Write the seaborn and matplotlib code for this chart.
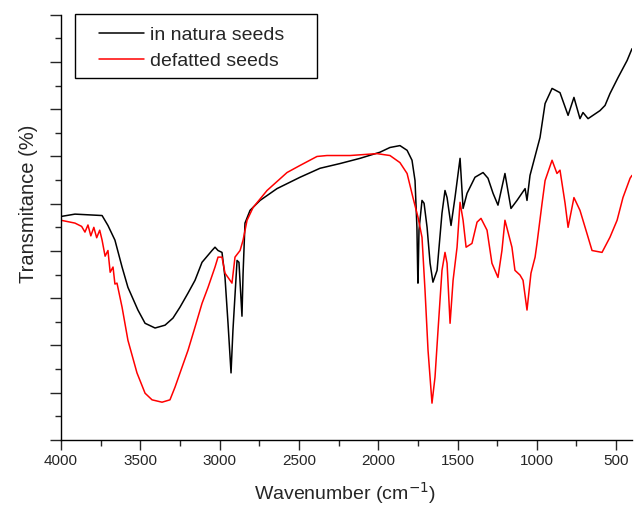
import pandas as pd
import matplotlib
matplotlib.use('Agg')
import matplotlib.pyplot as plt
import seaborn as sns
from matplotlib.ticker import MultipleLocator
from matplotlib.patches import Rectangle

# wavenumber (cm-1) and transmittance
natura_wn = [4000, 3912, 3741, 3704, 3660, 3615, 3578, 3515, 3470, 3407, 3344, 3294,
             3250, 3199, 3155, 3111, 3048, 3029, 3010, 2985, 2966, 2947, 2928, 2916,
             2890, 2878, 2859, 2852, 2840, 2808, 2745, 2638, 2493, 2367, 2241, 2115,
             1989, 1926, 1863, 1818, 1787, 1768, 1756, 1750, 1749, 1743, 1724, 1711,
             1692, 1673, 1655, 1629, 1598, 1579, 1566, 1541, 1516, 1484, 1465, 1440,
             1390, 1339, 1308, 1276, 1245, 1201, 1163, 1125, 1074, 1062, 1043, 980,
             948, 904, 854, 803, 766, 728, 709, 677, 602, 570, 539, 488, 431, 400]
natura_t = [47.3, 47.8, 47.5, 45.4, 42.3, 36.6, 32.3, 27.5, 24.7, 23.7, 24.3, 25.8,
            28.1, 31.1, 33.8, 37.6, 40.1, 40.8, 40.1, 39.7, 34.4, 24.7, 14.2, 23.2,
            38.0, 37.6, 26.2, 35.3, 45.9, 48.6, 50.7, 53.2, 55.6, 57.5, 58.5, 59.6,
            60.9, 61.9, 62.3, 61.3, 59.2, 54.9, 45.0, 33.2, 33.2, 44.4, 50.7, 50.1,
            45.0, 37.4, 33.4, 35.9, 48.0, 52.8, 51.3, 45.4, 51.3, 59.6, 49.0, 52.2,
            55.6, 56.6, 55.4, 52.2, 49.7, 56.4, 49.0, 50.7, 53.2, 50.7, 56.0, 64.0,
            71.2, 74.4, 73.5, 68.7, 72.5, 68.0, 69.3, 68.0, 69.7, 70.8, 73.3, 76.7, 80.3, 82.8]

defatted_wn = [4000, 3912, 3870, 3849, 3830, 3812, 3793, 3775, 3756, 3741, 3722, 3704,
               3690, 3672, 3660, 3647, 3615, 3578, 3521, 3470,
               3426, 3363, 3313, 3281, 3237, 3199, 3155, 3111, 3073, 3029, 3010, 2985,
               2966, 2947, 2922, 2903, 2871, 2852, 2827, 2789, 2701, 2575, 2493, 2386,
               2323, 2178, 2008, 1926, 1863, 1818, 1781, 1749, 1724, 1705, 1686, 1661,
               1642, 1623, 1598, 1579, 1566, 1547, 1528, 1503, 1484, 1465, 1446, 1409,
               1377, 1352, 1314, 1283, 1245, 1220, 1201, 1157, 1138, 1106, 1087, 1062,
               1037, 1011, 999, 967, 948, 904, 873, 854, 822, 803, 766, 728, 684, 652,
               589, 539, 494, 457, 412, 400]
defatted_t = [46.5, 45.9, 45.2, 44.0, 45.5, 43.2, 45.0, 42.8, 44.4, 42.3, 38.9, 40.1,
              35.5, 36.6, 33.0, 33.2, 28.1, 21.1, 14.2, 9.9,
              8.5, 8.0, 8.5, 11.2, 15.4, 19.0, 23.9, 28.9, 32.3, 36.6, 38.7, 38.7,
              35.3, 34.4, 33.2, 38.7, 40.1, 42.3, 46.5, 49.2, 52.8, 56.6, 58.1, 60.0,
              60.2, 60.2, 60.6, 60.2, 58.7, 56.4, 51.3, 47.1, 42.9, 31.7, 19.0, 7.8,
              13.3, 23.2, 35.9, 39.7, 37.4, 24.7, 33.8, 40.8, 50.3, 46.5, 40.8, 41.6,
              46.1, 46.9, 44.4, 37.4, 34.4, 40.1, 46.5, 40.8, 35.9, 34.9, 33.8, 27.5,
              35.3, 38.7, 41.6, 50.1, 54.9, 59.2, 56.4, 57.1, 50.1, 45.0, 51.3, 48.6,
              43.7, 40.1, 39.7, 42.9, 46.5, 51.3, 55.4, 56.0]

series_names = ['in natura seeds', 'defatted seeds']
series_colors = ['black', 'red']

df = pd.concat([
    pd.DataFrame({'wn': natura_wn, 'T': natura_t, 'sample': series_names[0]}),
    pd.DataFrame({'wn': defatted_wn, 'T': defatted_t, 'sample': series_names[1]}),
])

sns.set_style('ticks')
plt.rcParams['font.family'] = ['Liberation Sans', 'DejaVu Sans']

fig = plt.figure(figsize=(6.36, 5.05), dpi=100)
ax = fig.add_axes([61 / 636, 65 / 505, 571 / 636, 425.3 / 505])

sns.lineplot(data=df, x='wn', y='T', hue='sample', palette=series_colors,
             linewidth=1.1, estimator=None, sort=False, ax=ax)

ax.set_xlim(4000, 400)
ax.set_ylim(0, 90)
ax.xaxis.set_major_locator(MultipleLocator(500))
ax.xaxis.set_minor_locator(MultipleLocator(250))
ax.yaxis.set_major_locator(MultipleLocator(10))
ax.yaxis.set_minor_locator(MultipleLocator(5))
ax.set_yticklabels([])
ax.tick_params(axis='x', which='major', length=7, width=1, labelsize=11, pad=3)
ax.tick_params(axis='x', which='minor', length=4, width=1)
ax.tick_params(axis='y', which='major', length=8, width=1)
ax.tick_params(axis='y', which='minor', length=4, width=1)
sns.despine(ax=ax)
for s in ['left', 'bottom']:
    ax.spines[s].set_linewidth(1.0)
    ax.spines[s].set_color('black')

ax.set_xlabel('Wavenumber (cm$^{-1}$)', fontsize=14)
ax.xaxis.set_label_coords(0.497, -0.094)
ax.set_ylabel('Transmitance (%)', fontsize=14.5)
ax.yaxis.set_label_coords(-0.04, 0.555)

# legend box drawn separately, entries placed inside it
fig.add_artist(Rectangle((75 / 636, 1 - 78 / 505), 242 / 636, 64 / 505,
                         transform=fig.transFigure, fill=False,
                         edgecolor='black', linewidth=1.0))
leg = ax.legend(loc='upper left', bbox_to_anchor=(99 / 636, 1 - 26 / 505),
                bbox_transform=fig.transFigure, frameon=False,
                fontsize=14, handlelength=2.31, borderpad=0, labelspacing=0.45,
                handletextpad=0.31, borderaxespad=0)

fig.savefig('out.png', dpi=100)
